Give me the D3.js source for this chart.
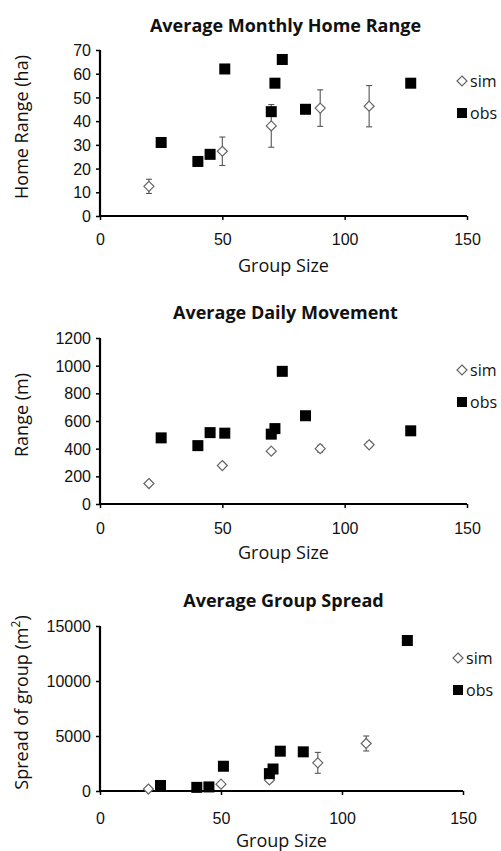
<!DOCTYPE html>
<html lang="en">
<head>
<meta charset="UTF-8">
<title>Group size panels</title>
<script src="https://cdn.jsdelivr.net/npm/d3@7"></script>
<style>
  html, body { margin: 0; padding: 0; background: #fff; }
  svg { display: block; font-family: "Open Sans", sans-serif; }
  .title { font-weight: bold; font-size: 18px; fill: #111; }
  .tick text { font-size: 16px; fill: #111; }
  .axis-label { font-size: 18px; fill: #111; }
  .legend text { font-size: 16px; fill: #111; }
</style>
</head>
<body>
<div id="chart"></div>
<script>
// group sizes shared by the panels
var xTicks = [0, 50, 100, 150];
var groupSizeObs = [25, 40, 45, 51, 70, 71.5, 74.5, 84, 127];
var groupSizeSim = [20, 50, 70, 90, 110];

// monthly home range (ha)
var homeRangeObs = [31, 23, 26, 62, 44, 56, 66, 45, 56];
var homeRangeSim = [12.5, 27.3, 38, 45.5, 46.3];
var homeRangeSimErr = [3, 6, 9, 7.7, 8.7];
var homeRangeTicks = [0, 10, 20, 30, 40, 50, 60, 70];

// daily movement (m)
var dailyMoveObs = [478, 422, 516, 512, 505, 545, 959, 638, 529];
var dailyMoveSim = [148, 278, 382, 400, 428];
var dailyMoveSimErr = [15, 15, 15, 25, 20];
var dailyMoveTicks = [0, 200, 400, 600, 800, 1000, 1200];

// group spread (m2)
var spreadObs = [500, 330, 370, 2250, 1580, 2000, 3620, 3560, 13680];
var spreadSim = [180, 620, 1000, 2560, 4320];
var spreadSimErr = [80, 150, 200, 950, 680];
var spreadTicks = [0, 5000, 10000, 15000];

var W = 501, H = 851;
var svg = d3.select('#chart').append('svg')
    .attr('width', W)
    .attr('height', H);

var panels = [
    {
        title: 'Average Monthly Home Range',
        ylabel: ['Home Range (ha)'],
        obs: homeRangeObs, sim: homeRangeSim, err: homeRangeSimErr,
        ticks: homeRangeTicks,
        left: 100, right: 467, top: 50, bottom: 216,
        titleY: 32, tickY: 245, xlabelY: 272, legendY: 81
    },
    {
        title: 'Average Daily Movement',
        ylabel: ['Range (m)'],
        obs: dailyMoveObs, sim: dailyMoveSim, err: dailyMoveSimErr,
        ticks: dailyMoveTicks,
        left: 100, right: 467, top: 338, bottom: 504,
        titleY: 319, tickY: 534, xlabelY: 559, legendY: 370
    },
    {
        title: 'Average Group Spread',
        ylabel: ['Spread of group (m', '2', ')'],
        obs: spreadObs, sim: spreadSim, err: spreadSimErr,
        ticks: spreadTicks,
        left: 100, right: 463, top: 626, bottom: 791,
        titleY: 607, tickY: 824, xlabelY: 847, legendY: 658
    }
];

var diamond = d3.symbol().type(d3.symbolDiamond2).size(64);

panels.forEach(function (p) {
    var x = d3.scaleLinear().domain([0, 150]).range([p.left, p.right]);
    var y = d3.scaleLinear()
        .domain([0, p.ticks[p.ticks.length - 1]])
        .range([p.bottom, p.top]);

    var g = svg.append('g');

    // title
    g.append('text')
        .attr('class', 'title')
        .attr('x', (p.left + p.right) / 2 + 2)
        .attr('y', p.titleY)
        .attr('text-anchor', 'middle')
        .text(p.title);

    // y axis
    var yAxis = g.append('g')
        .attr('transform', 'translate(' + p.left + ',0)')
        .call(d3.axisLeft(y).tickValues(p.ticks).tickSize(4).tickPadding(5).tickFormat(d3.format('d')));
    yAxis.select('.domain').attr('stroke-width', 2.2).attr('d', 'M0,' + (p.bottom + 1) + 'V' + p.top);
    yAxis.selectAll('.tick line').attr('stroke-width', 1.5);
    yAxis.selectAll('.tick text').attr('dy', '0.35em');

    // x axis
    var xAxis = g.append('g')
        .attr('transform', 'translate(0,' + p.bottom + ')')
        .call(d3.axisBottom(x).tickValues(xTicks).tickSize(4).tickPadding(0).tickFormat(d3.format('d')));
    xAxis.select('.domain').attr('stroke-width', 2.2).attr('d', 'M' + p.left + ',0H' + p.right);
    xAxis.selectAll('.tick line').attr('stroke-width', 1.5);
    xAxis.selectAll('.tick text').attr('y', p.tickY - p.bottom).attr('dy', 0);

    // axis labels
    g.append('text')
        .attr('class', 'axis-label')
        .attr('x', (p.left + p.right) / 2)
        .attr('y', p.xlabelY)
        .attr('text-anchor', 'middle')
        .text('Group Size');

    var yl = g.append('text')
        .attr('class', 'axis-label')
        .attr('text-anchor', 'middle')
        .attr('transform', 'translate(28,' + ((p.top + p.bottom) / 2 - 6) + ') rotate(-90)');
    yl.append('tspan').text(p.ylabel[0]);
    if (p.ylabel.length > 1) {
        yl.append('tspan').attr('baseline-shift', 'super').attr('font-size', '12px').text(p.ylabel[1]);
        yl.append('tspan').text(p.ylabel[2]);
    }

    // sim error bars
    var eb = g.append('g').attr('stroke', '#555').attr('stroke-width', 1.1);
    groupSizeSim.forEach(function (gs, i) {
        var cx = x(gs), hi = y(p.sim[i] + p.err[i]), lo = y(p.sim[i] - p.err[i]);
        eb.append('line').attr('x1', cx).attr('x2', cx).attr('y1', hi).attr('y2', lo);
        eb.append('line').attr('x1', cx - 3).attr('x2', cx + 3).attr('y1', hi).attr('y2', hi);
        eb.append('line').attr('x1', cx - 3).attr('x2', cx + 3).attr('y1', lo).attr('y2', lo);
    });

    // sim markers
    g.selectAll('.sim')
        .data(groupSizeSim)
        .enter().append('path')
        .attr('d', diamond)
        .attr('transform', function (d, i) { return 'translate(' + x(d) + ',' + y(p.sim[i]) + ')'; })
        .attr('fill', '#fff')
        .attr('stroke', '#666')
        .attr('stroke-width', 1.2);

    // obs markers
    g.selectAll('.obs')
        .data(groupSizeObs)
        .enter().append('rect')
        .attr('x', function (d) { return x(d) - 5.5; })
        .attr('y', function (d, i) { return y(p.obs[i]) - 5.5; })
        .attr('width', 11)
        .attr('height', 11)
        .attr('fill', '#000');

    // legend
    var lg = g.append('g').attr('class', 'legend');
    var lx = p.right - 5;
    lg.append('path')
        .attr('d', diamond)
        .attr('transform', 'translate(' + lx + ',' + p.legendY + ')')
        .attr('fill', '#fff').attr('stroke', '#666').attr('stroke-width', 1.2);
    lg.append('text').attr('x', lx + 8).attr('y', p.legendY).attr('dy', '0.35em').text('sim');
    lg.append('rect')
        .attr('x', lx - 5).attr('y', p.legendY + 32 - 5).attr('width', 10).attr('height', 10)
        .attr('fill', '#000');
    lg.append('text').attr('x', lx + 8).attr('y', p.legendY + 32).attr('dy', '0.35em').text('obs');
});
</script>
</body>
</html>
